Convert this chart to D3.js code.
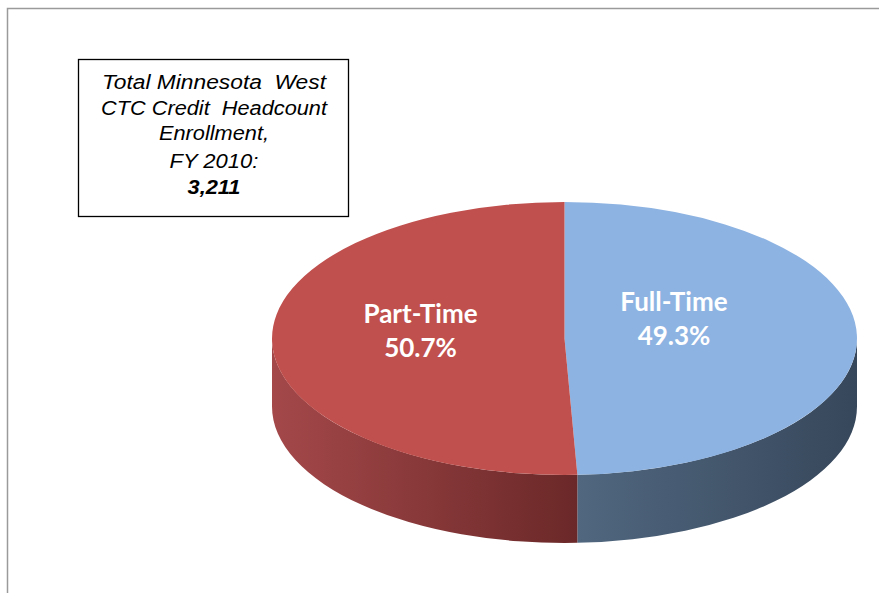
<!DOCTYPE html>
<html>
<head>
<meta charset="utf-8">
<script src="https://cdn.jsdelivr.net/npm/d3@7"></script>
<style>
  body { margin: 0; background: #fff; }
</style>
</head>
<body>
<div id="graph"></div>
<script>
// data
var categories = ["Full-Time", "Part-Time"];
var shares = [49.3, 50.7];
var topColors = ["#8db3e2", "#c0504d"];
var sideColors = [["#50677f", "#37475b"], ["#a4484a", "#6b2828"]];
var boxLines = ["Total Minnesota  West", "CTC Credit  Headcount", "Enrollment,", "FY 2010:", "3,211"];

var width = 879, height = 593;
var cx = 564.5, cy = 338.5, rx = 292.5, ry = 136.5, depth = 68;

var svg = d3.select("#graph").append("svg")
  .attr("width", width)
  .attr("height", height);

// chart area border (only top and left show)
svg.append("rect")
  .attr("x", 7.5).attr("y", 8.5)
  .attr("width", 1000).attr("height", 1000)
  .attr("fill", "none")
  .attr("stroke", "#9a9a9a")
  .attr("stroke-width", 1.5);

var pie = d3.pie().sort(null).value(function(d) { return d; });
var arcs = pie(shares);

// angle 0 at top, clockwise, like d3.arc
function px(a) { return cx + rx * Math.sin(a); }
function py(a) { return cy - ry * Math.cos(a); }

var defs = svg.append("defs");
sideColors.forEach(function(c, i) {
  var g = defs.append("linearGradient")
    .attr("id", "side" + i)
    .attr("gradientUnits", "userSpaceOnUse")
    .attr("x1", i == 0 ? px(arcs[0].endAngle) : cx - rx)
    .attr("x2", i == 0 ? cx + rx : px(arcs[0].endAngle))
    .attr("y1", 0).attr("y2", 0);
  g.append("stop").attr("offset", "0%").attr("stop-color", c[0]);
  g.append("stop").attr("offset", "100%").attr("stop-color", c[1]);
});

// side walls: only the front half (PI/2 .. 3PI/2) is visible
arcs.forEach(function(d, i) {
  var a0 = Math.max(d.startAngle, Math.PI / 2);
  var a1 = Math.min(d.endAngle, Math.PI * 1.5);
  if (a1 <= a0) return;
  var p = "M" + px(a0) + "," + py(a0)
    + " A" + rx + "," + ry + " 0 0 1 " + px(a1) + "," + py(a1)
    + " L" + px(a1) + "," + (py(a1) + depth)
    + " A" + rx + "," + ry + " 0 0 0 " + px(a0) + "," + (py(a0) + depth)
    + " Z";
  svg.append("path")
    .attr("d", p)
    .attr("fill", "url(#side" + i + ")");
});

// top faces
var arc = d3.arc().innerRadius(0).outerRadius(rx);
svg.append("g")
  .attr("transform", "translate(" + cx + "," + cy + ") scale(1," + (ry / rx) + ")")
  .selectAll("path")
  .data(arcs)
  .enter().append("path")
  .attr("d", arc)
  .attr("fill", function(d, i) { return topColors[i]; });

// slice labels
var labelPos = [[674, 311], [420.5, 323]];
arcs.forEach(function(d, i) {
  var t = svg.append("text")
    .attr("x", labelPos[i][0])
    .attr("y", labelPos[i][1])
    .attr("text-anchor", "middle")
    .attr("font-family", "Lato, 'Open Sans', sans-serif")
    .attr("font-weight", "bold")
    .attr("font-size", 26)
    .attr("fill", "#fff");
  t.append("tspan").text(categories[i]);
  t.append("tspan")
    .attr("x", labelPos[i][0])
    .attr("dy", 34)
    .text(d.data.toFixed(1) + "%");
});

// text box
svg.append("rect")
  .attr("x", 78.5).attr("y", 59.5)
  .attr("width", 270).attr("height", 157)
  .attr("fill", "#fff")
  .attr("stroke", "#000")
  .attr("stroke-width", 1.3);

var boxWidths = [224, 226, 110, 89, 53];
var boxBaselines = [89, 114.5, 140, 168, 194];
svg.selectAll(".boxline")
  .data(boxLines)
  .enter().append("text")
  .attr("class", "boxline")
  .attr("x", 214)
  .attr("y", function(d, i) { return boxBaselines[i]; })
  .attr("text-anchor", "middle")
  .attr("font-family", "Arial, 'Liberation Sans', sans-serif")
  .attr("font-style", "italic")
  .attr("font-weight", function(d, i) { return i == 4 ? "bold" : "normal"; })
  .attr("font-size", 20)
  .attr("textLength", function(d, i) { return boxWidths[i]; })
  .attr("lengthAdjust", "spacingAndGlyphs")
  .attr("fill", "#000")
  .style("white-space", "pre")
  .text(function(d) { return d; });
</script>
</body>
</html>
